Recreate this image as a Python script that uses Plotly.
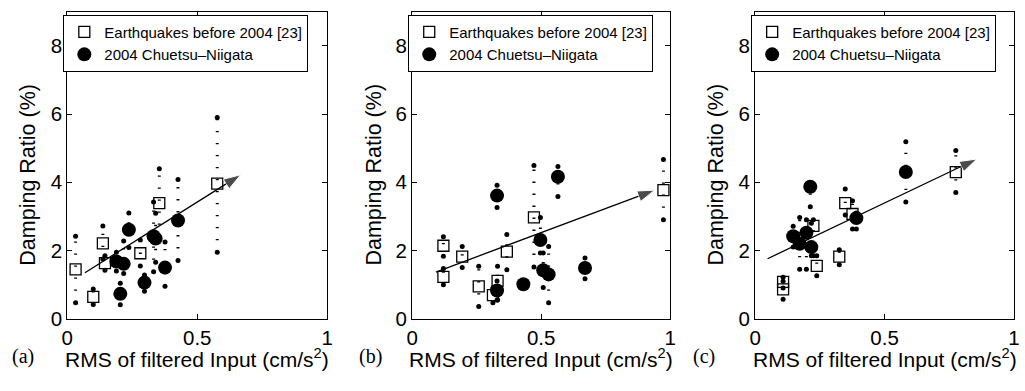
import plotly.graph_objects as go

# ---------------- (a) ----------------
a_sq_x = [0.032, 0.100, 0.137, 0.145, 0.281, 0.354, 0.577]
a_sq_y = [1.45, 0.64, 2.21, 1.63, 1.92, 3.39, 3.96]
a_sq_lo = [0.47, 0.42, 1.75, 1.42, 1.55, 2.40, 1.95]
a_sq_hi = [2.42, 0.87, 2.72, 1.85, 2.31, 4.40, 5.90]
a_ci_x = [0.189, 0.217, 0.204, 0.237, 0.297, 0.332, 0.340, 0.376, 0.426]
a_ci_y = [1.68, 1.61, 0.73, 2.61, 1.06, 2.42, 2.35, 1.50, 2.88]
a_ci_lo = [1.40, 1.33, 0.41, 2.09, 0.81, 1.38, 1.66, 0.95, 1.71]
a_ci_hi = [1.95, 2.28, 1.04, 3.10, 1.28, 3.42, 3.09, 2.25, 4.08]
a_trend_x = [0.068, 0.667]
a_trend_y = [1.35, 4.22]

# ---------------- (b) ----------------
b_sq_x = [0.121, 0.121, 0.194, 0.258, 0.331, 0.313, 0.367, 0.472, 0.974]
b_sq_y = [1.23, 2.14, 1.82, 0.95, 1.11, 0.69, 1.97, 2.97, 3.77]
b_sq_lo = [1.00, 1.83, 1.50, 0.36, 0.55, 0.47, 1.44, 1.52, 2.90]
b_sq_hi = [1.47, 2.40, 2.12, 1.54, 1.54, 0.90, 2.47, 4.49, 4.67]
b_ci_x = [0.329, 0.329, 0.431, 0.497, 0.508, 0.529, 0.565, 0.670]
b_ci_y = [3.61, 0.83, 1.01, 2.31, 1.42, 1.30, 4.16, 1.49]
b_ci_lo = [3.26, 0.55, 0.95, 1.93, 0.92, 0.47, 3.58, 1.17]
b_ci_hi = [3.91, 1.11, 1.07, 2.97, 1.93, 2.12, 4.46, 1.78]
b_trend_x = [0.092, 0.940]
b_trend_y = [1.37, 3.77]

# ---------------- (c) ----------------
c_sq_x = [0.108, 0.108, 0.225, 0.238, 0.325, 0.348, 0.376, 0.775]
c_sq_y = [1.08, 0.86, 2.72, 1.55, 1.82, 3.39, 3.07, 4.30]
c_sq_lo = [0.90, 0.57, 1.85, 1.26, 1.58, 3.04, 2.63, 3.70]
c_sq_hi = [1.22, 1.10, 2.90, 1.85, 2.02, 3.80, 3.46, 4.93]
c_ci_x = [0.147, 0.172, 0.198, 0.217, 0.213, 0.391, 0.582]
c_ci_y = [2.42, 2.20, 2.52, 2.10, 3.87, 2.95, 4.30]
c_ci_lo = [2.10, 1.45, 1.45, 1.85, 3.28, 2.63, 3.42]
c_ci_hi = [2.71, 2.97, 2.90, 2.80, 3.95, 3.10, 5.19]
c_trend_x = [0.048, 0.856]
c_trend_y = [1.76, 4.68]

panel_tags = ["(a)", "(b)", "(c)"]
x_title = "RMS of filtered Input (cm/s<sup>2</sup>)"
y_title = "Damping Ratio (%)"
x_ticks = [0, 0.5, 1]
x_tick_text = ["0", "0.5", "1"]
y_ticks = [0, 2, 4, 6, 8]
y_tick_text = ["0", "2", "4", "6", "8"]
legend_names = ["Earthquakes before 2004 [23]", "2004 Chuetsu\u2013Niigata"]

panels = [
    (a_sq_x, a_sq_y, a_sq_lo, a_sq_hi, a_ci_x, a_ci_y, a_ci_lo, a_ci_hi, a_trend_x, a_trend_y),
    (b_sq_x, b_sq_y, b_sq_lo, b_sq_hi, b_ci_x, b_ci_y, b_ci_lo, b_ci_hi, b_trend_x, b_trend_y),
    (c_sq_x, c_sq_y, c_sq_lo, c_sq_hi, c_ci_x, c_ci_y, c_ci_lo, c_ci_hi, c_trend_x, c_trend_y),
]

W, H = 1025, 391
x_domains = [(62, 325), (411, 672), (758, 1020)]   # pixel extents of each axes box
y_bottom, y_top = 328, 12
tag_centres = [17, 369, 706]
ytitle_centres = [22, 372, 718]                     # x of the rotated y titles
ytitle_row = 180
caption_y = 367                                     # pixel row of the caption line

SANS = "Liberation Sans, Arial, sans-serif"
SERIF = "Liberation Serif, Times New Roman, serif"


def range_path(xs, lo, hi):
    px, py = [], []
    for x, a, b in zip(xs, lo, hi):
        px += [x, x, None]
        py += [a, b, None]
    return px, py


fig = go.Figure()
layout = {}
annotations = []

for i, (sx, sy, slo, shi, cx, cy, clo, chi, tx, ty) in enumerate(panels):
    k = "" if i == 0 else str(i + 1)
    xa, ya = "x" + k, "y" + k
    leg = "legend" + k

    # dotted min-max ranges
    px, py = range_path(sx + cx, slo + clo, shi + chi)
    fig.add_trace(go.Scatter(x=px, y=py, xaxis=xa, yaxis=ya, mode="lines",
                             line=dict(color="black", width=3, dash="1.3px,10.7px"),
                             showlegend=False, hoverinfo="skip"))
    # end dots of each range
    fig.add_trace(go.Scatter(x=(sx + cx) * 2, y=slo + clo + shi + chi, xaxis=xa, yaxis=ya,
                             mode="markers", marker=dict(color="black", size=5),
                             showlegend=False, hoverinfo="skip"))
    # earlier earthquakes
    fig.add_trace(go.Scatter(x=sx, y=sy, xaxis=xa, yaxis=ya, mode="markers",
                             name=legend_names[0], legend=leg,
                             marker=dict(symbol="square-open", size=11, color="black",
                                         line=dict(width=1.3))))
    # Chuetsu-Niigata
    fig.add_trace(go.Scatter(x=cx, y=cy, xaxis=xa, yaxis=ya, mode="markers",
                             name=legend_names[1], legend=leg,
                             marker=dict(symbol="circle", size=14, color="black")))
    # trend arrow
    fig.add_trace(go.Scatter(x=tx, y=ty, xaxis=xa, yaxis=ya, mode="lines+markers",
                             line=dict(color="black", width=1.3),
                             marker=dict(symbol="arrow", size=[0, 18], angleref="previous",
                                         color="black"),
                             showlegend=False, hoverinfo="skip"))

    l, r = x_domains[i]
    axis_common = dict(showline=True, linecolor="black", linewidth=1.2, mirror="ticks",
                       ticks="inside", ticklen=5, tickwidth=1, tickcolor="black",
                       showgrid=False, zeroline=False,
                       tickfont=dict(family=SANS, size=20.5, color="black"))
    layout["xaxis" + k] = dict(axis_common, domain=[l / W, r / W], range=[0, 1],
                               tickvals=x_ticks, ticktext=x_tick_text, anchor=ya,
                               ticklabelstandoff=1)
    layout["yaxis" + k] = dict(axis_common, domain=[(H - y_bottom) / H, (H - y_top) / H],
                               range=[0, 9], tickvals=y_ticks, ticktext=y_tick_text,
                               anchor=xa)
    layout[leg] = dict(x=(l - 4) / W, y=(H - 15) / H, xanchor="left", yanchor="top",
                       bordercolor="black", borderwidth=1, bgcolor="white",
                       font=dict(family=SANS, size=15, color="black"),
                       itemsizing="trace", tracegroupgap=0)

    # rotated y title
    annotations.append(dict(text=y_title, x=ytitle_centres[i] / W, y=(H - ytitle_row) / H,
                            xref="paper", yref="paper", showarrow=False, textangle=-90,
                            xanchor="center", yanchor="middle",
                            font=dict(family=SANS, size=21.5, color="black")))
    # caption line under each panel: tag + x-axis title
    annotations.append(dict(text=panel_tags[i], x=tag_centres[i] / W, y=(H - caption_y) / H,
                            xref="paper", yref="paper", showarrow=False,
                            xanchor="center", yanchor="middle",
                            font=dict(family=SERIF, size=20, color="black")))
    annotations.append(dict(text=x_title, x=(l + r) / 2 / W, y=(H - caption_y - 1) / H,
                            xref="paper", yref="paper", showarrow=False,
                            xanchor="center", yanchor="middle",
                            font=dict(family=SANS, size=21, color="black")))

fig.update_layout(**layout)
fig.update_layout(width=W, height=H, margin=dict(l=0, r=0, t=0, b=0),
                  paper_bgcolor="white", plot_bgcolor="white",
                  annotations=annotations, showlegend=True)

fig.write_html("out.html")
